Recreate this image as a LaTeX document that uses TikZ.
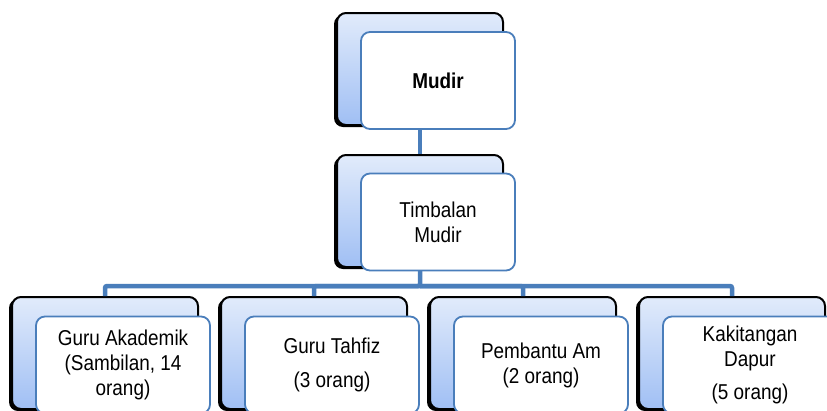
\documentclass[tikz,border=0pt]{standalone}
\usepackage{fontspec}
\setmainfont{Liberation Sans}[FakeStretch=0.88]
\usepackage{tikz}
\usetikzlibrary{shadows}

\definecolor{lineblue}{HTML}{4A7EBB}
\definecolor{backtop}{HTML}{E1EBFB}
\definecolor{backbot}{HTML}{A0BFF4}

\begin{document}
\begin{tikzpicture}[x=1pt, y=-1pt,
    back/.style  = {draw=black, line width=2pt, rounded corners=9pt,
                    top color=backtop, bottom color=backbot,
                    general shadow={fill=black, shadow xshift=-3pt, shadow yshift=-2pt},
                    minimum height=112pt, inner sep=0pt},
    front/.style = {draw=lineblue, line width=1.8pt, fill=white, rounded corners=9pt,
                    align=center, font=\fontsize{21.5}{25}\selectfont,
                    minimum height=97pt, inner sep=0pt},
    link/.style  = {draw=lineblue, line width=4.5pt, rounded corners=2pt}]
    \useasboundingbox (0,0) rectangle (827,410);
    \clip (0,0) rectangle (827,410);

    \node[back, minimum width=166pt] (mudirb)     at (420,69)  {};
    \node[back, minimum width=166pt] (timbalanb)  at (420,211) {};
    \node[back, minimum width=186pt] (akademikb)  at (105,353) {};
    \node[back, minimum width=186pt] (tahfizb)    at (314,353) {};
    \node[back, minimum width=186pt] (pembantub)  at (523,353) {};
    \node[back, minimum width=186pt] (dapurb)     at (732,353) {};

    \coordinate (bus) at (420,286);
    \draw[link] (mudirb.south) -- (timbalanb.north);
    \draw[link] (timbalanb.south) -- (bus) -| (akademikb.north);
    \draw[link] (bus) -| (tahfizb.north);
    \draw[link] (bus) -| (pembantub.north);
    \draw[link] (bus) -| (dapurb.north);

    \node[front, minimum width=154pt] (mudir)    at (438,80.5) {\textbf{Mudir}};
    \node[front, minimum width=154pt] (timbalan) at (438,222)  {Timbalan\\Mudir};
    \node[front, minimum width=174pt] (akademik) at (123,365)  {Guru Akademik\\(Sambilan, 14\\orang)};
    \node[front, minimum width=174pt] (tahfiz)   at (332,365)  {Guru Tahfiz\\[9pt](3 orang)};
    \node[front, minimum width=174pt] (pembantu) at (541,365)  {Pembantu Am\\(2 orang)};
    \node[front, minimum width=174pt] (dapur)    at (750,365)  {Kakitangan\\Dapur\\[8pt](5 orang)};
\end{tikzpicture}
\end{document}
